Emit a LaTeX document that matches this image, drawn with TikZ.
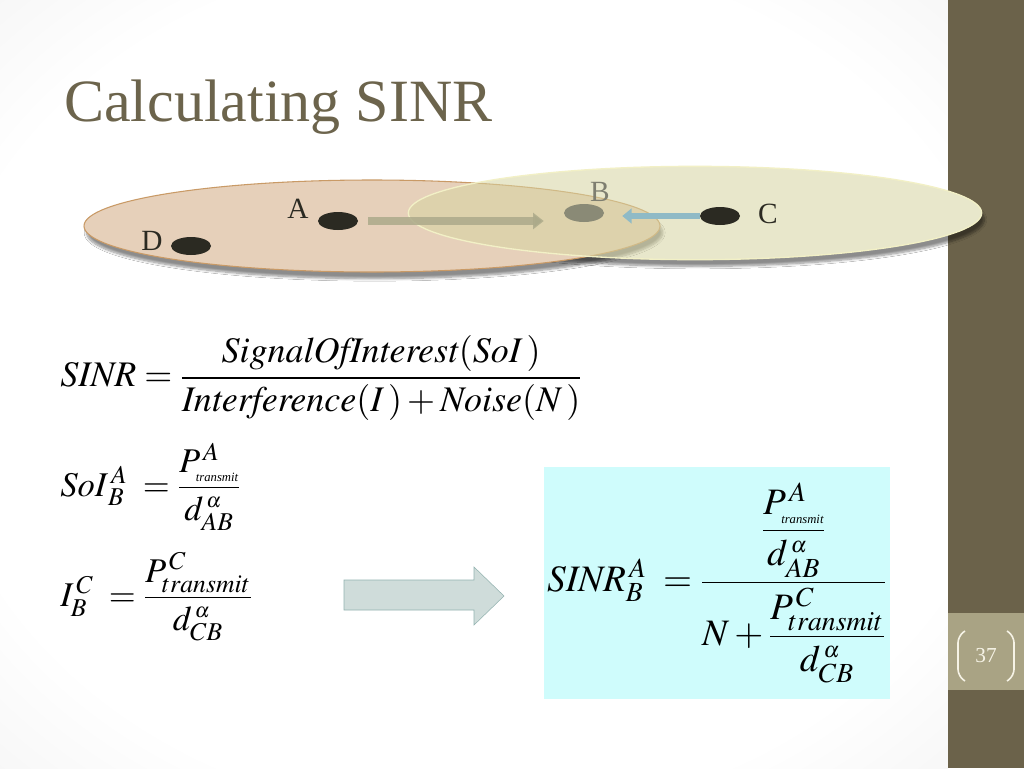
\documentclass[tikz,border=0pt]{standalone}
\usepackage{amsmath}
\usepackage{mathptmx}
\usepackage[no-math]{fontspec}
\setmainfont{Liberation Serif}
\usetikzlibrary{positioning,shapes.geometric,arrows.meta,shadows.blur}

\definecolor{barcol}{HTML}{6B624A}
\definecolor{barlight}{HTML}{A9A384}
\definecolor{titlecol}{HTML}{6C644C}
\definecolor{tancol}{HTML}{E6D0BA}
\definecolor{tanedge}{HTML}{C99A66}
\definecolor{palecol}{HTML}{D6D4A2}
\definecolor{paleedge}{HTML}{F2F0C6}
\definecolor{dotcol}{HTML}{2B2A22}
\definecolor{dotB}{HTML}{8A8A76}
\definecolor{labB}{HTML}{7E7E70}
\definecolor{sendcol}{HTML}{ACAA8A}
\definecolor{intcol}{HTML}{8FBAC6}
\definecolor{boxcol}{HTML}{CFFCFC}
\definecolor{arrfill}{HTML}{CFDCDA}
\definecolor{arrdraw}{HTML}{93B3B0}
\definecolor{pgcol}{HTML}{F6F3E6}

\pgfdeclareradialshading{slidebg}{\pgfpoint{0bp}{0bp}}{color(0bp)=(white); color(28bp)=(white); color(50bp)=(black!9); color(72bp)=(black!15)}
\newcommand{\trs}{\mbox{\fontsize{9.5}{10}\selectfont\itshape transmit}}
\newcommand{\dist}[1]{d^{\,\scriptscriptstyle\alpha}_{#1}}

\begin{document}
\begin{tikzpicture}[x=0.75pt,y=-0.75pt,
  every node/.style={inner sep=0pt},
  site/.style={ellipse, fill=dotcol, minimum width=30pt, minimum height=13.5pt},
  lbl/.style={font=\fontsize{22}{24}\selectfont, text=dotcol},
  eqn/.style={font=\fontsize{26}{30}\selectfont, anchor=west},
  reach/.style={line width=0.8pt, blur shadow={shadow xshift=2pt, shadow yshift=-5pt, shadow blur steps=8, shadow opacity=45}},
  bracket/.style={pgcol, line width=1.2pt, rounded corners=5pt}
]

\useasboundingbox (0,0) rectangle (1024,768);
\shade[shading=slidebg] (0,0) rectangle (948,768);
\fill[barcol] (948,0) rectangle (1024,768);
\fill[barlight] (948,613) rectangle (1024,690);

% title
\node[anchor=base west, text=titlecol, font=\fontsize{45}{50}\selectfont] (title) at (64,121) {Calculating SINR};

% ranges of A and C
\fill[white, reach] (695,213) ellipse [x radius=215pt, y radius=35pt];
\filldraw[fill=tancol, draw=tanedge, reach] (372,226) ellipse [x radius=216pt, y radius=34.5pt];
\filldraw[fill=palecol, fill opacity=.55, draw=paleedge, line width=1pt] (695,213) ellipse [x radius=215pt, y radius=35pt];

% stations
\foreach \n/\x/\y in {A/338/221, C/720/216, D/191/246}
  \node[site] (\n) at (\x,\y) {};
\node[site, fill=dotB] (B) at (584,213) {};

\foreach \n/\x/\y in {A/298/209, C/768/214, D/152/241}
  \node[lbl] (l\n) at (\x,\y) {\n};
\node[lbl, text=labB] (lB) at (600,192) {B};

\draw[-{Triangle[length=8pt,width=12pt]}, line width=5.5pt, draw=sendcol, draw opacity=.85]
  ([xshift=7.5pt]A.east) -- ([xshift=-15pt]A.east -| B.west);
\draw[-{Triangle[length=7pt,width=11pt]}, line width=4.5pt, draw=intcol]
  (C.west) -- ([xshift=13.5pt]C.west -| B.east);

% formulas
\node[eqn, font=\fontsize{27}{31}\selectfont] (sinr) at (60,378) {$\mathit{SINR}=\dfrac{\mathit{SignalOfInterest}(\mathit{SoI}\,)}{\mathit{Interference}(I\,)+\mathit{Noise}(N\,)}$};
\node[eqn] (soi) at (60,487) {$\mathit{SoI}^{\,A}_{B}\;=\dfrac{P^{\,A}_{\trs}}{\dist{AB}}$};
\node[eqn] (intf) at (60,597) {$I^{\,C}_{B}\;=\dfrac{P^{\,C}_{transmit}}{\dist{CB}}$};

\filldraw[fill=arrfill, draw=arrdraw] (344,580) -- (474,580) -- (474,567) -- (504,596)
  -- (474,625) -- (474,610) -- (344,610) -- cycle;

\node[fill=boxcol, minimum width=259.5pt, minimum height=174pt, font=\fontsize{28}{32}\selectfont] (res) at (717,583)
  {$\mathit{SINR}^{\,A}_{B}\;=\dfrac{\dfrac{P^{\,A}_{\trs}}{\dist{AB}}}{N+\dfrac{P^{\,C}_{transmit}}{\dist{CB}}}$};

% page number
\node[text=pgcol, font=\fontsize{16}{18}\selectfont] (pg) at (986,656) {37};
\draw[bracket] (965,631) -- (958,636) -- (958,676) -- (965,681);
\draw[bracket] (1007,631) -- (1014,636) -- (1014,676) -- (1007,681);

\end{tikzpicture}
\end{document}
